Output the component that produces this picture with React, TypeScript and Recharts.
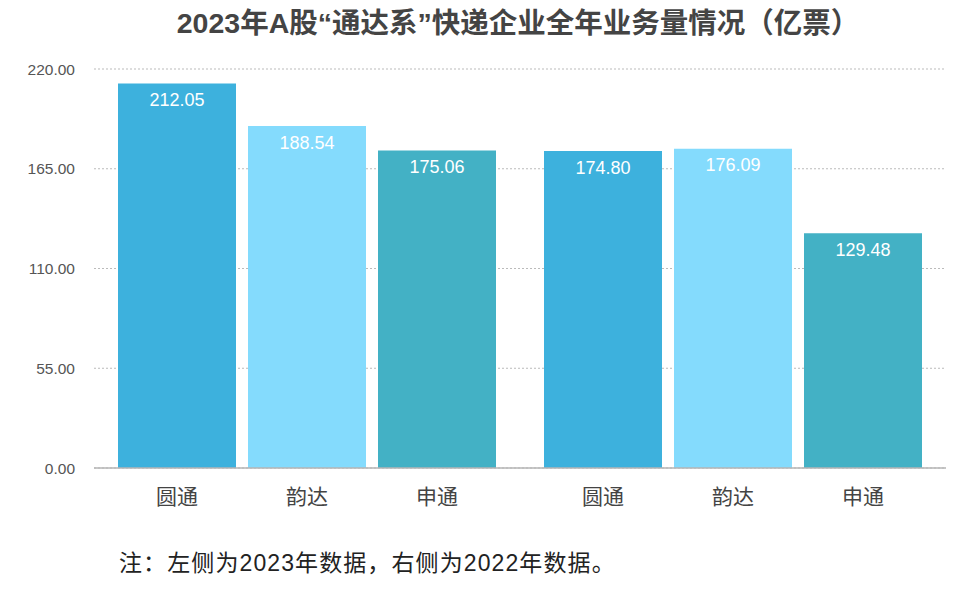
import { Bar, BarChart, CartesianGrid, LabelList, ReferenceLine, XAxis, YAxis } from "recharts";

const years = ["2023", "2022"];
const companies = ["圆通", "韵达", "申通"];
const yuantong = [212.05, 174.8];
const yunda = [188.54, 176.09];
const shentong = [175.06, 129.48];
const yTicks = [0, 55, 110, 165, 220];

const colors = ["#3db1dd", "#84dbfd", "#43b1c5"];
const font = '"Liberation Sans", "Noto Sans CJK SC", sans-serif';

const data = years.map((year, i) => ({
  year,
  [companies[0]]: yuantong[i],
  [companies[1]]: yunda[i],
  [companies[2]]: shentong[i]
}));

function nameLabel(name: string) {
  return (props: any) => {
    const { x, y, width, height } = props;
    return (
      <text
        x={Number(x) + Number(width) / 2}
        y={Number(y) + Number(height) + 30}
        textAnchor="middle"
        dominantBaseline="middle"
        fill="#444"
        fontSize={21}
        fontFamily={font}
      >
        {name}
      </text>
    );
  };
}

export default function App() {
  return (
    <div style={{ position: "relative", width: 960, height: 578, fontFamily: font }}>
      <div
        style={{
          position: "absolute",
          top: -1,
          left: 4,
          width: 1012,
          textAlign: "center",
          fontSize: 28.5,
          fontWeight: "bold",
          color: "#444",
          lineHeight: "32px"
        }}
      >
        2023年A股“通达系”快递企业全年业务量情况（亿票）
      </div>
      <div style={{ position: "absolute", top: 0, left: 0 }}>
        <BarChart
          width={960}
          height={540}
          data={data}
          margin={{ top: 61, right: 22, left: 0, bottom: 80 }}
          barGap={12}
          barCategoryGap={24}
        >
          <CartesianGrid vertical={false} stroke="#bbb" strokeDasharray="2 2" />
          <XAxis dataKey="year" hide />
          <YAxis
            width={86}
            domain={[0, 220]}
            ticks={yTicks}
            tickFormatter={(v: number) => v.toFixed(2)}
            axisLine={false}
            tickLine={false}
            tickSize={0}
            tickMargin={19}
            tick={{ fill: "#555", fontSize: 15.5, fontFamily: font }}
          />
          {companies.map((name, i) => (
            <Bar key={name} dataKey={name} fill={colors[i]} isAnimationActive={false}>
              <LabelList
                dataKey={name}
                position="insideTop"
                offset={10}
                fill="#fff"
                fontSize={18}
                fontFamily={font}
                formatter={(v: any) => Number(v).toFixed(2)}
              />
              <LabelList dataKey={name} content={nameLabel(name)} />
            </Bar>
          ))}
          <ReferenceLine y={0} stroke="#b5b5b5" strokeWidth={1.5} />
        </BarChart>
      </div>
      <div
        style={{
          position: "absolute",
          top: 540,
          left: 111,
          fontSize: 23,
          letterSpacing: 1.1,
          color: "#222",
          lineHeight: "30px"
        }}
      >
        注：左侧为2023年数据，右侧为2022年数据。
      </div>
    </div>
  );
}
